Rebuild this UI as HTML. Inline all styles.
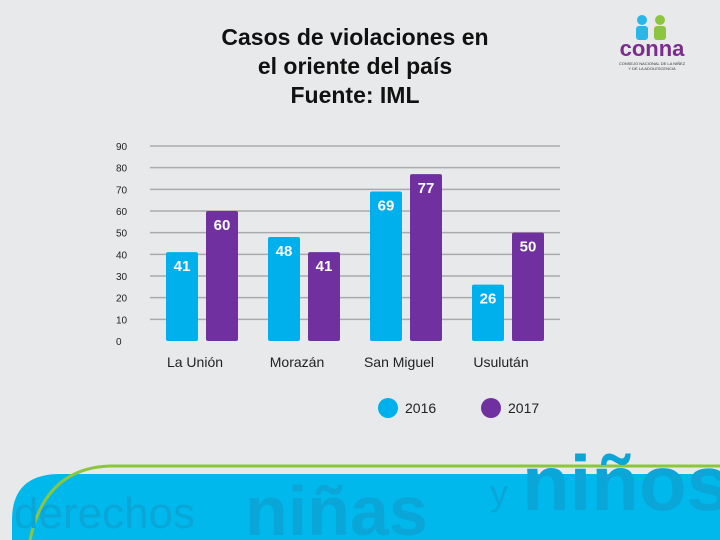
<!DOCTYPE html>
<html><head><meta charset="utf-8"><style>
body{margin:0;width:720px;height:540px;overflow:hidden;background:#e8e9ea;font-family:"Liberation Sans",sans-serif;position:relative}
#title{position:absolute;left:155px;top:23px;width:400px;text-align:center;font-size:23px;font-weight:bold;line-height:29px;color:#111}
svg{position:absolute;left:0;top:0;overflow:hidden}
</style></head><body>
<div id="title">Casos de violaciones en<br>el oriente del país<br>Fuente: IML</div>
<svg width="720" height="540" id="svg">
<defs><clipPath id="clip"><rect x="0" y="0" width="720" height="540"/></clipPath></defs>
<g>
<circle cx="642" cy="20" r="5" fill="#29b6e8"/><rect x="636" y="26" width="12" height="14" rx="3" fill="#29b6e8"/>
<circle cx="660" cy="20" r="5" fill="#8cc63f"/><rect x="654" y="26" width="12" height="14" rx="3" fill="#8cc63f"/>
<text x="652" y="56" text-anchor="middle" font-size="22" font-weight="bold" fill="#7b2d8e">conna</text>
<text x="652" y="65" text-anchor="middle" font-size="4" fill="#333">CONSEJO NACIONAL DE LA NIÑEZ</text>
<text x="652" y="70" text-anchor="middle" font-size="4" fill="#333">Y DE LA ADOLESCENCIA</text>
</g>
<g id="chart"></g>
<g clip-path="url(#clip)">
<path d="M60 474 H720 V540 H12 V520 Q12 474 60 474Z" fill="#00b8ec"/>
<path d="M30 540 Q45 468 110 466 H720" fill="none" stroke="#8cc63f" stroke-width="3"/>
<text x="14" y="528" font-size="44" fill="#0aa6d8">derechos</text>
<text x="245" y="535" font-size="70" font-weight="bold" fill="#0aa6d8">niñas</text>
<text x="490" y="505" font-size="36" fill="#0aa6d8">y</text>
<text x="522" y="510" font-size="78" font-weight="bold" fill="#0aa6d8">niños</text>
</g>
</svg>
<script>
const categories=["La Unión","Morazán","San Miguel","Usulután"];
const series2016=[41,48,69,26];
const series2017=[60,41,77,50];
const ticks=[0,10,20,30,40,50,60,70,80,90];
const NS="http://www.w3.org/2000/svg";
const g=document.getElementById('chart');
const y=v=>341-v*(195/90);
const cx=i=>202+i*102;
function mk(t,a,txt){const e=document.createElementNS(NS,t);for(const k in a)e.setAttribute(k,a[k]);if(txt!==undefined)e.textContent=txt;g.appendChild(e);return e;}
ticks.forEach(t=>{
 if(t>0){const l=mk('line',{x1:150,x2:560,y1:y(t),y2:y(t),stroke:'#a9aaac','stroke-width':1.5});
 
 }
 const tx=mk('text',{x:116,y:y(t)+4,'font-size':10,fill:'#222'},t);
 
 
});
categories.forEach((c,i)=>{
 [[series2016[i],'#00b0ec',-36],[series2017[i],'#7030a0',4]].forEach(([v,col,off])=>{
  const r=mk('rect',{x:cx(i)+off,y:y(v),width:32,height:341-y(v),fill:col,rx:2});
  
  
  const lb=mk('text',{x:cx(i)+off+16,y:y(v)+19,'text-anchor':'middle','font-size':15,'font-weight':'bold',fill:'#fff'},v);
  
  
 });
 const cl=mk('text',{x:cx(i)-7,y:367,'text-anchor':'middle','font-size':14,fill:'#222'},c);
 
 
});
[['2016','#00b0ec',388],['2017','#7030a0',491]].forEach(([n,col,x])=>{
 const c=mk('circle',{cx:x,cy:408,r:10,fill:col});
 
 
 const t=mk('text',{x:x+17,y:413,'font-size':14,fill:'#222'},n);
 
 
});
</script>
</body></html>
